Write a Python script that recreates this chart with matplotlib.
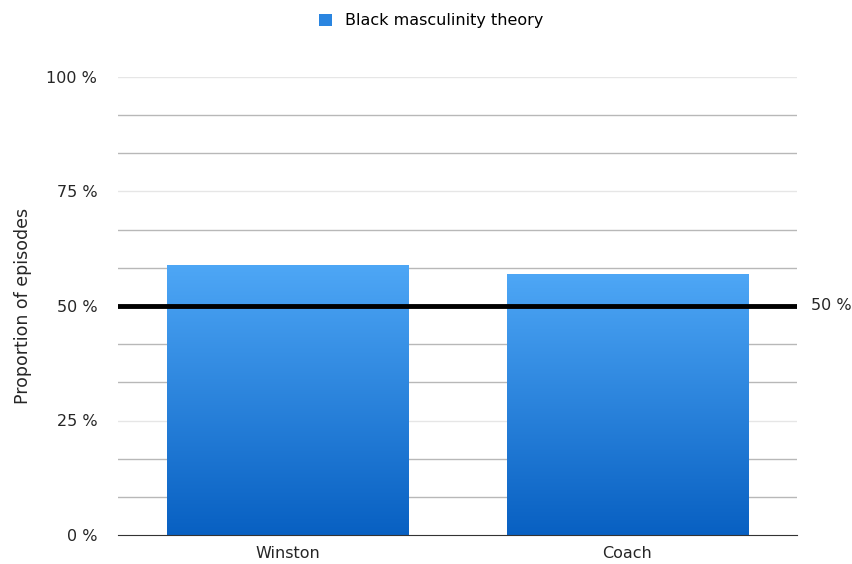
import numpy as np
import matplotlib
matplotlib.use("Agg")
from matplotlib import pyplot as plt
from matplotlib.colors import LinearSegmentedColormap
from matplotlib.patches import Patch

categories = ["Winston", "Coach"]
values = [59, 57]
series_name = "Black masculinity theory"
reference_value = 50
tick_values = [0, 25, 50, 75, 100]
tick_labels = ["0 %", "25 %", "50 %", "75 %", "100 %"]

plt.rcParams["font.family"] = ["DejaVu Sans"]
fs = 11.5
txt = "#262626"

fig = plt.figure(figsize=(8.52, 5.64), dpi=100)
ax = fig.add_axes([118 / 852, 1 - 535 / 564, 679 / 852, 458 / 564])

grad = LinearSegmentedColormap.from_list("bar", ["#0860c2", "#4ea7f6"])
x = np.arange(len(categories))
bars = ax.bar(x, values, width=0.71, color="none", zorder=2)
for b in bars:
    x0, w, h = b.get_x(), b.get_width(), b.get_height()
    img = ax.imshow(np.linspace(0, 1, 256).reshape(-1, 1), cmap=grad,
                    extent=[x0, x0 + w, 0, h], origin="lower",
                    aspect="auto", zorder=2)
    img.set_clip_path(b)

ax.set_xlim(-0.5, len(categories) - 0.5)
ax.set_ylim(0, 100)

# grid: labelled lines light, intermediate lines darker
for v in np.linspace(0, 100, 13)[1:]:
    major = abs(v / 25 - round(v / 25)) < 1e-6
    ax.axhline(v, color="#e6e6e6" if major else "#b8b8b8", lw=1, zorder=1)

ax.axhline(reference_value, color="black", lw=3.5, zorder=3)
ax.text(1.02, reference_value, f"{reference_value} %", transform=ax.get_yaxis_transform(),
        va="center", ha="left", fontsize=fs, color=txt)

for s in ["top", "right", "left"]:
    ax.spines[s].set_visible(False)
ax.spines["bottom"].set_color("#333333")
ax.spines["bottom"].set_zorder(4)

ax.set_yticks(tick_values)
ax.set_yticklabels(tick_labels, fontsize=fs, color=txt)
ax.tick_params(axis="y", length=0, pad=15)
ax.set_xticks(x)
ax.set_xticklabels(categories, fontsize=fs, color=txt)
ax.tick_params(axis="x", length=0, pad=8)

ax.set_ylabel("Proportion of episodes", fontsize=12.5, color=txt)
ax.yaxis.set_label_coords(-0.127, 0.5)

handle = Patch(facecolor="#2a85e0", edgecolor="none")
fig.legend([handle], [series_name], loc="upper center", bbox_to_anchor=(0.506, 1.002),
           frameon=False, fontsize=fs, handlelength=0.8, handleheight=0.8,
           handletextpad=0.8)

fig.savefig("out.png", dpi=100)
